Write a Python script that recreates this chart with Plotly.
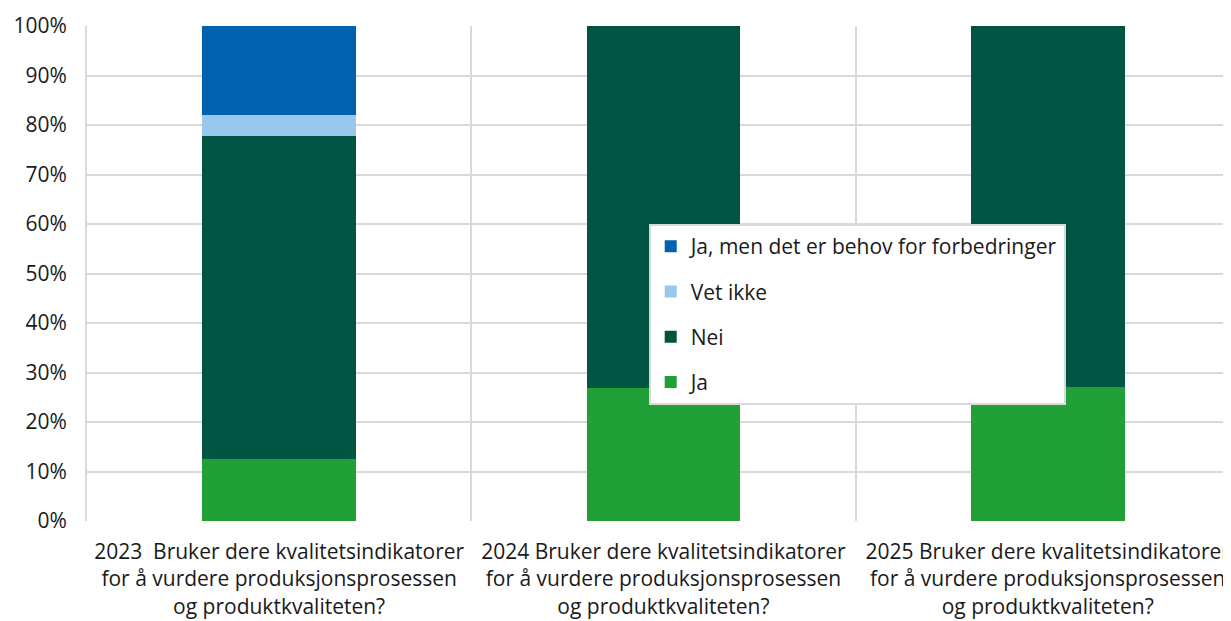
import plotly.graph_objects as go

categories = [
    "2023  Bruker dere kvalitetsindikatorer<br>for å vurdere produksjonsprosessen<br>og produktkvaliteten?",
    "2024 Bruker dere kvalitetsindikatorer<br>for å vurdere produksjonsprosessen<br>og produktkvaliteten?",
    "2025 Bruker dere kvalitetsindikatorer<br>for å vurdere produksjonsprosessen<br>og produktkvaliteten?",
]
ja = [12.5, 26.9, 27.1]
nei = [65.3, 73.1, 72.9]
vet_ikke = [4.2, 0, 0]
ja_men = [18.0, 0, 0]

series = [
    ("Ja", ja, "#21A038"),
    ("Nei", nei, "#005442"),
    ("Vet ikke", vet_ikke, "#9AC8EC"),
    ("Ja, men det er behov for forbedringer", ja_men, "#0062AE"),
]

fig = go.Figure()
n = len(series)
for i, (name, vals, color) in enumerate(series):
    fig.add_trace(go.Bar(
        x=categories, y=vals, name=name, marker_color=color,
        marker_line_width=0, width=0.4, legendgroup=f"g{i}",
        legendrank=n - i,
    ))

fig.update_layout(
    barmode="stack",
    width=1223, height=613,
    margin=dict(l=79, r=0, t=18, b=100),
    paper_bgcolor="white", plot_bgcolor="white",
    font=dict(family="Open Sans", size=21, color="#1a1a1a"),
    legend=dict(
        x=0.491, y=0.6, xanchor="left", yanchor="top",
        bgcolor="white", bordercolor="#d9d9d9", borderwidth=2,
        traceorder="grouped", tracegroupgap=15,
        font=dict(size=21, color="#1a1a1a"),
    ),
    xaxis=dict(
        range=[-0.5, 2.477], tickson="boundaries", showgrid=True,
        gridcolor="#d9d9d9", gridwidth=2, ticks="", zeroline=False,
        tickfont=dict(size=21), automargin=False, ticklabelstandoff=16,
    ),
    yaxis=dict(
        range=[0, 100], dtick=10, ticksuffix="%", showgrid=True,
        gridcolor="#d9d9d9", gridwidth=2, zeroline=False,
        showline=True, linecolor="#d9d9d9", linewidth=2,
        ticks="", tickfont=dict(size=21), automargin=False,
        ticklabelstandoff=14,
    ),
)
fig.write_html("out.html")
